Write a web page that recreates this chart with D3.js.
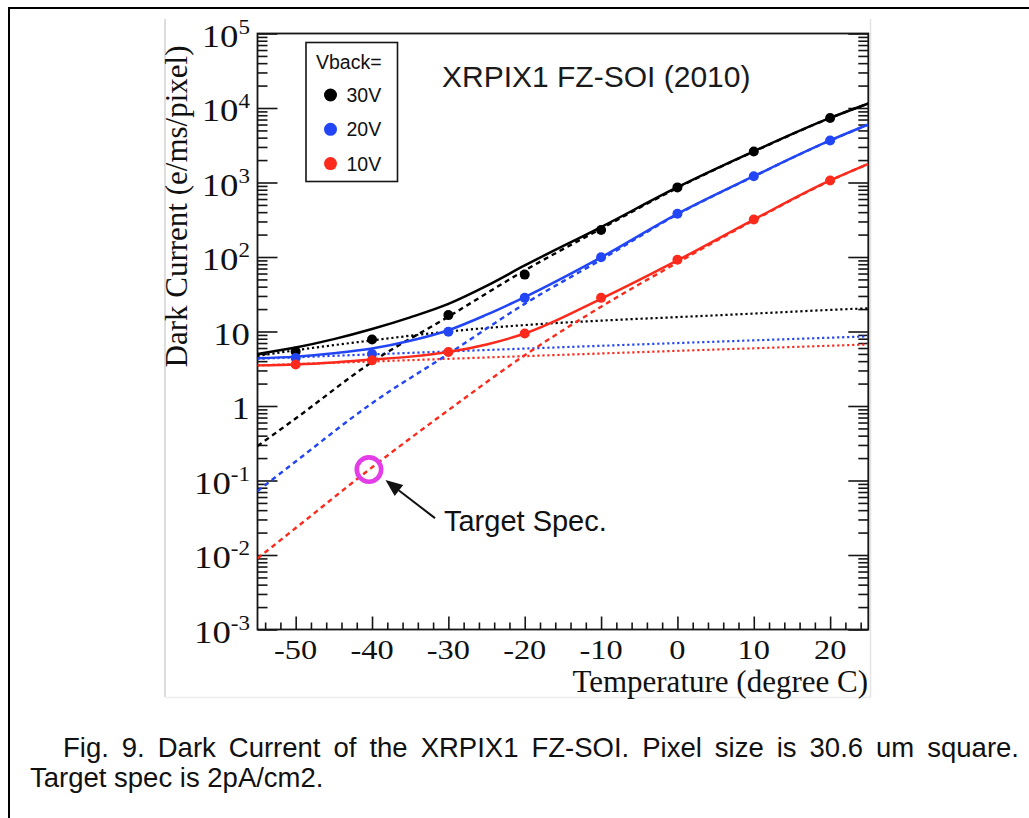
<!DOCTYPE html>
<html>
<head>
<meta charset="utf-8">
<script src="https://cdn.jsdelivr.net/npm/d3@7"></script>
<style>
  html, body { margin: 0; padding: 0; background: #fff; }
  svg { display: block; }
</style>
</head>
<body>
<svg id="chart" width="1029" height="818"></svg>
<script>
// ---- measured dark current (e/ms/pixel) at each temperature (deg C)
const temps = [-50, -40, -30, -20, -10, 0, 10, 20];
const dark30V = [5.4, 7.8, 16.6, 58, 230, 860, 2610, 7350];
const dark20V = [4.4, 5.0, 9.9, 28.3, 99, 380, 1215, 3660];
const dark10V = [3.6, 4.1, 5.3, 9.4, 28.3, 92, 318, 1064];

// ---- fitted curves: total (solid), diffusion term (dashed), slow term (dotted)
const totalTemps = [-55, -50, -45, -40, -35, -30, -25, -20, -10, 0, 10, 20, 25];
const total30V = [5.0, 6.1, 7.9, 10.8, 15.5, 23.5, 41, 77, 252, 865, 2620, 7350, 11500];
const total20V = [4.38, 4.6, 5.1, 5.9, 7.5, 10.4, 16.8, 29, 99, 380, 1215, 3670, 6000];
const total10V = [3.51, 3.62, 3.85, 4.2, 4.6, 5.3, 6.7, 9.4, 27.5, 90, 318, 1065, 1782];
const fitTemps = [-55, -50, -40, -30, -20, -10, 0, 10, 20, 25];
const steep30V = [0.29, 0.68, 3.9, 15.8, 66, 240, 848, 2600, 7330, 11480];
const slow30V  = [4.7, 5.6, 7.6, 10.0, 12.2, 14.0, 15.6, 17.4, 19.5, 20.5];
const steep20V = [0.072, 0.18, 1.09, 5.0, 23.5, 92, 373, 1207, 3660, 5990];
const steep10V = [0.009, 0.023, 0.15, 0.88, 4.8, 21.5, 84, 311, 1058, 1775];
const slowTemps = [-55, -30, 0, 25];
const slow20V = [4.3, 5.4, 7.0, 8.6];
const slow10V = [3.5, 4.3, 5.5, 6.7];

// ---- target specification (2 pA/cm2)
const targetTemp = -40.4;
const targetValue = 0.14;

// ---- labels
const seriesNames = ["30V", "20V", "10V"];
const seriesColors = ["#000000", "#2246f5", "#fb2a1c"];
const yTickExponents = [-3, -2, -1, 0, 1, 2, 3, 4, 5];
const xTickLabels = [-50, -40, -30, -20, -10, 0, 10, 20];
const titleText = "XRPIX1 FZ-SOI (2010)";
const legendTitle = "Vback=";
const yTitle = "Dark Current (e/ms/pixel)";
const xTitle = "Temperature (degree C)";
const annotation = "Target Spec.";
const captionLines = [
  "Fig. 9. Dark Current of the XRPIX1 FZ-SOI. Pixel size is 30.6 um square.",
  "Target spec is 2pA/cm2."
];

const svg = d3.select("#chart");
const SERIF = '"Liberation Serif", "Times New Roman", Times, serif';
const SANS = '"Liberation Sans", Arial, Helvetica, sans-serif';

const frame = { left: 257.5, right: 868.3, top: 33.5, bottom: 629.5 };
const x = d3.scaleLinear().domain([-55, 25]).range([frame.left, frame.right]);
const y = d3.scaleLog().domain([1e-3, 1e5]).range([frame.bottom, frame.top]);

// ---- page border and the embedded figure's edges
svg.append("path").attr("d", "M9,818V8H1029").attr("fill", "none")
  .attr("stroke", "#000").attr("stroke-width", 2);
svg.append("line").attr("x1", 165).attr("x2", 165).attr("y1", 19).attr("y2", 697)
  .attr("stroke", "#d2d2d2").attr("stroke-width", 1.5);
svg.append("line").attr("x1", 870.5).attr("x2", 870.5).attr("y1", 19).attr("y2", 697)
  .attr("stroke", "#e4e4e4").attr("stroke-width", 1.5);
svg.append("line").attr("x1", 165).attr("x2", 871).attr("y1", 697.5).attr("y2", 697.5)
  .attr("stroke", "#ececec").attr("stroke-width", 1.5);

// ---- clip for curves
svg.append("defs").append("clipPath").attr("id", "plotClip")
  .append("rect").attr("x", frame.left).attr("y", frame.top)
  .attr("width", frame.right - frame.left).attr("height", frame.bottom - frame.top);

// ---- axes ticks
const yTicks = y.ticks();
const isMajor = v => Math.abs(Math.log10(v) - Math.round(Math.log10(v))) < 1e-6;
const yMajor = yTicks.filter(isMajor);
const yMinor = yTicks.filter(v => !isMajor(v));
const xMajor = x.ticks();
const xMinor = x.ticks(40).filter(v => xMajor.indexOf(v) < 0);

function tickAxis(axis, tx, ty) {
  const g = svg.append("g").attr("transform", `translate(${tx},${ty})`).call(axis);
  g.select(".domain").remove();
  g.selectAll("text").remove();
  g.selectAll("line").attr("stroke", "#151515").attr("stroke-width", 1.6);
  return g;
}
tickAxis(d3.axisLeft(y).tickValues(yMajor).tickSize(-20).tickFormat(""), frame.left, 0);
tickAxis(d3.axisLeft(y).tickValues(yMinor).tickSize(-10).tickFormat(""), frame.left, 0);
tickAxis(d3.axisRight(y).tickValues(yMajor).tickSize(-20).tickFormat(""), frame.right, 0);
tickAxis(d3.axisRight(y).tickValues(yMinor).tickSize(-10).tickFormat(""), frame.right, 0);
tickAxis(d3.axisBottom(x).tickValues(xMajor).tickSize(-13).tickFormat(""), 0, frame.bottom);
tickAxis(d3.axisBottom(x).tickValues(xMinor).tickSize(-7).tickFormat(""), 0, frame.bottom);

// ---- frame
svg.append("rect").attr("x", frame.left).attr("y", frame.top)
  .attr("width", frame.right - frame.left).attr("height", frame.bottom - frame.top)
  .attr("fill", "none").attr("stroke", "#151515").attr("stroke-width", 1.8);

// ---- y tick labels (10^n)
const yLab = svg.append("g").attr("font-family", SERIF).attr("fill", "#111");
yTickExponents.forEach(n => {
  const v = Math.pow(10, n);
  const t = yLab.append("text")
    .attr("transform", `translate(250,${y(v) + 13}) scale(1.15,1)`)
    .attr("text-anchor", "end").attr("font-size", 32);
  if (n === 0) t.text("1");
  else if (n === 1) t.text("10");
  else {
    t.append("tspan").text("10");
    t.append("tspan").attr("font-size", 20).attr("dy", -13).text(String(n));
  }
});

// ---- x tick labels
const xLab = svg.append("g").attr("font-family", SERIF).attr("fill", "#111");
xTickLabels.forEach(v => {
  xLab.append("text")
    .attr("transform", `translate(${x(v)},658.5) scale(1.2,1)`)
    .attr("text-anchor", "middle").attr("font-size", 27).text(String(v));
});

// ---- axis titles
svg.append("text").attr("font-family", SERIF).attr("font-size", 31).attr("fill", "#111")
  .attr("text-anchor", "middle")
  .attr("transform", "translate(187,206.5) rotate(-90)").text(yTitle);
svg.append("text").attr("font-family", SERIF).attr("font-size", 31).attr("fill", "#111")
  .attr("text-anchor", "end").attr("x", 868).attr("y", 692).text(xTitle);

// ---- curves
const line = d3.line().x(d => x(d[0])).y(d => y(d[1])).curve(d3.curveMonotoneX);
const plot = svg.append("g").attr("clip-path", "url(#plotClip)");
const zip = (a, b) => a.map((t, i) => [t, b[i]]);

const slowSets = [zip(fitTemps, slow30V), zip(slowTemps, slow20V), zip(slowTemps, slow10V)];
const steepSets = [zip(fitTemps, steep30V), zip(fitTemps, steep20V), zip(fitTemps, steep10V)];
const totalSets = [zip(totalTemps, total30V), zip(totalTemps, total20V), zip(totalTemps, total10V)];
const pointSets = [zip(temps, dark30V), zip(temps, dark20V), zip(temps, dark10V)];

slowSets.forEach((d, i) => plot.append("path").attr("d", line(d)).attr("fill", "none")
  .attr("stroke", seriesColors[i]).attr("stroke-width", 2.2).attr("stroke-dasharray", "2.2,2.8"));
steepSets.forEach((d, i) => plot.append("path").attr("d", line(d)).attr("fill", "none")
  .attr("stroke", seriesColors[i]).attr("stroke-width", 2.4).attr("stroke-dasharray", "5,4"));
totalSets.forEach((d, i) => plot.append("path").attr("d", line(d)).attr("fill", "none")
  .attr("stroke", seriesColors[i]).attr("stroke-width", 2.5));
pointSets.forEach((d, i) => plot.append("g").selectAll("circle").data(d).join("circle")
  .attr("cx", p => x(p[0])).attr("cy", p => y(p[1])).attr("r", 5)
  .attr("fill", seriesColors[i]));

// ---- target spec marker with arrow
const tx = x(targetTemp), ty = y(targetValue);
svg.append("circle").attr("cx", tx).attr("cy", ty).attr("r", 12.2)
  .attr("fill", "none").attr("stroke", "#e23de6").attr("stroke-width", 4.6);
const tip = [tx + 16.5, ty + 10.5], tail = [tx + 66, ty + 48.5];
const ang = Math.atan2(tail[1] - tip[1], tail[0] - tip[0]);
const headLen = 17, headW = 7;
const base = [tip[0] + headLen * Math.cos(ang), tip[1] + headLen * Math.sin(ang)];
svg.append("line").attr("x1", base[0]).attr("y1", base[1]).attr("x2", tail[0]).attr("y2", tail[1])
  .attr("stroke", "#111").attr("stroke-width", 2);
svg.append("polygon").attr("fill", "#111").attr("points", [
  tip,
  [base[0] - headW * Math.sin(ang), base[1] + headW * Math.cos(ang)],
  [base[0] + headW * Math.sin(ang), base[1] - headW * Math.cos(ang)]
].map(p => p.join(",")).join(" "));
svg.append("text").attr("font-family", SANS).attr("font-size", 29).attr("fill", "#111")
  .attr("x", tx + 75).attr("y", 531).text(annotation);

// ---- title
svg.append("text").attr("font-family", SANS).attr("font-size", 30).attr("fill", "#1a1a1a")
  .attr("x", 442).attr("y", 87).text(titleText);

// ---- legend
const lg = svg.append("g");
lg.append("rect").attr("x", 306).attr("y", 42.5).attr("width", 91.5).attr("height", 139)
  .attr("fill", "#fff").attr("stroke", "#151515").attr("stroke-width", 1.6);
lg.append("text").attr("font-family", SANS).attr("font-size", 19.5).attr("fill", "#111")
  .attr("x", 316).attr("y", 69).text(legendTitle);
seriesNames.forEach((name, i) => {
  const cy = 95 + i * 34.3;
  lg.append("circle").attr("cx", 330.5).attr("cy", cy).attr("r", 6.5).attr("fill", seriesColors[i]);
  lg.append("text").attr("font-family", SANS).attr("font-size", 19.5).attr("fill", "#111")
    .attr("x", 346.5).attr("y", cy + 7).text(name);
});

// ---- caption (first line justified)
const capFont = 27.5;
const words = captionLines[0].split(" ");
const measure = svg.append("text").attr("font-family", SANS).attr("font-size", capFont);
const widths = words.map(w => { measure.text(w); return measure.node().getComputedTextLength(); });
measure.remove();
const lineStart = 63, lineEnd = 1019;
const gap = (lineEnd - lineStart - d3.sum(widths)) / (words.length - 1);
let cursor = lineStart;
const cap = svg.append("g").attr("font-family", SANS).attr("font-size", capFont).attr("fill", "#111");
words.forEach((w, i) => {
  cap.append("text").attr("x", cursor).attr("y", 757).text(w);
  cursor += widths[i] + gap;
});
cap.append("text").attr("x", 30).attr("y", 787).text(captionLines[1]);
</script>
</body>
</html>
